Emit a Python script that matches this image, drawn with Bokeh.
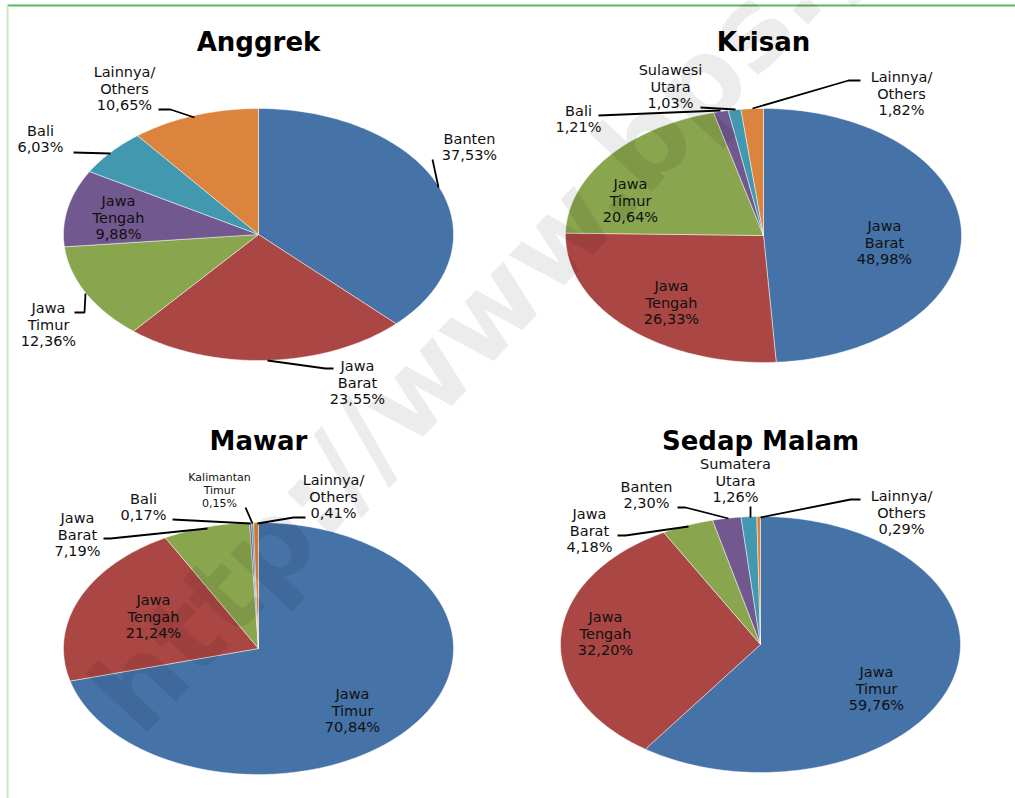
import math
from bokeh.plotting import figure
from bokeh.models import Range1d, ColumnDataSource
from bokeh.embed import file_html
from bokeh.resources import INLINE
from bokeh.core.properties import value

# ---------------- data ----------------
titles = ["Anggrek", "Krisan", "Mawar", "Sedap Malam"]

anggrek_names = ["Banten", "Jawa Barat", "Jawa Timur", "Jawa Tengah", "Bali", "Lainnya/ Others"]
anggrek_values = [37.53, 23.55, 12.36, 9.88, 6.03, 10.65]

krisan_names = ["Jawa Barat", "Jawa Tengah", "Jawa Timur", "Bali", "Sulawesi Utara", "Lainnya/ Others"]
krisan_values = [48.98, 26.33, 20.64, 1.21, 1.03, 1.82]

mawar_names = ["Jawa Timur", "Jawa Tengah", "Jawa Barat", "Bali", "Kalimantan Timur", "Lainnya/ Others"]
mawar_values = [70.84, 21.24, 7.19, 0.17, 0.15, 0.41]

sedap_names = ["Jawa Timur", "Jawa Tengah", "Jawa Barat", "Banten", "Sumatera Utara", "Lainnya/ Others"]
sedap_values = [59.76, 32.20, 4.18, 2.30, 1.26, 0.29]

watermark = "http://www.bps.go.id"

# ---------------- styles / layout ----------------
COLORS = ["#4572A7", "#AA4643", "#89A54E", "#71588F", "#4198AF", "#DB843D"]
FONT = "DejaVu Sans"
W, H = 1015, 798

pies = [
    dict(names=anggrek_names, values=anggrek_values, cx=258, cy=234, rx=195, ry=126,
         title_xy=(258, 41),
         label_xy=[(469, 146.5), (357, 382), (48, 324), (118, 217), (40, 138.5), (124, 88)],
         small=[False] * 6,
         leaders=[[(432, 159), (438, 187)],
                  [(267, 360), (325, 368), (333, 368)],
                  [(85, 293), (84, 312), (74, 312)],
                  None,
                  [(73, 152), (110, 153)],
                  [(158, 109), (170, 109), (194, 117)]]),
    dict(names=krisan_names, values=krisan_values, cx=763, cy=235, rx=198, ry=127,
         title_xy=(763, 41),
         label_xy=[(884, 242), (671, 302), (630, 200), (578, 118.5), (670, 86), (901, 93)],
         small=[False] * 6,
         leaders=[None, None, None,
                  [(598, 115), (720, 110)],
                  [(700, 107), (735, 109)],
                  [(752, 108), (848, 80), (860, 80)]]),
    dict(names=mawar_names, values=mawar_values, cx=258, cy=648, rx=195, ry=126,
         title_xy=(258, 440),
         label_xy=[(352, 710), (153, 616), (77, 534), (143, 506.5), (219, 490), (333, 496)],
         small=[False, False, False, False, True, False],
         leaders=[None, None,
                  [(103, 538), (110, 538), (207, 528)],
                  [(172, 519), (250, 523)],
                  [(245, 507), (252, 523)],
                  [(257, 523), (293, 517), (305, 517)]]),
    dict(names=sedap_names, values=sedap_values, cx=760, cy=644, rx=200, ry=128,
         title_xy=(760, 440),
         label_xy=[(876, 688), (605, 633), (589, 530), (646, 494.5), (735, 480), (901, 512)],
         small=[False] * 6,
         leaders=[None, None,
                  [(617, 535), (625, 535), (688, 526)],
                  [(677, 507), (685, 507), (728, 518)],
                  [(750, 506), (750, 517)],
                  [(760, 517), (850, 499), (860, 499)]]),
]

p = figure(width=W, height=H, output_backend="svg", toolbar_location=None,
           x_range=Range1d(0, W), y_range=Range1d(H, 0), min_border=0)
p.axis.visible = False
p.grid.visible = False
p.outline_line_color = None
p.background_fill_color = "white"
p.border_fill_color = "white"

# frame lines
p.line(x=[7, W], y=[5, 5], line_color="#5cb85c", line_width=2)
p.line(x=[7, 7], y=[5, H], line_color="#cde8c6", line_width=2)

# slices
xs, ys, cols = [], [], []
lab_x, lab_y, lab_t, lab_s = [], [], [], []
lx, ly = [], []
tt_x, tt_y = [], []
for k, pie in enumerate(pies):
    vals = pie["values"]
    total = sum(vals)
    a0 = 0.0
    for i, v in enumerate(vals):
        a1 = a0 + v / total * 2 * math.pi
        n = max(2, int((a1 - a0) / (2 * math.pi) * 360) + 2)
        px = [pie["cx"]]
        py = [pie["cy"]]
        for j in range(n + 1):
            t = a0 + (a1 - a0) * j / n
            px.append(pie["cx"] + pie["rx"] * math.sin(t))
            py.append(pie["cy"] - pie["ry"] * math.cos(t))
        xs.append(px)
        ys.append(py)
        cols.append(COLORS[i % len(COLORS)])
        a0 = a1

        # label
        lines = pie["names"][i].split() + [f"{v:.2f}".replace(".", ",") + "%"]
        small = pie["small"][i]
        step = 13.0 if small else 16.7
        cxl, cyl = pie["label_xy"][i]
        top = cyl - step * (len(lines) - 1) / 2
        for m, s in enumerate(lines):
            lab_x.append(cxl)
            lab_y.append(top + m * step)
            lab_t.append(s)
            lab_s.append("11px" if small else "14.5px")
        ld = pie["leaders"][i]
        if ld:
            lx.append([q[0] for q in ld])
            ly.append([q[1] for q in ld])
    tt_x.append(pie["title_xy"][0])
    tt_y.append(pie["title_xy"][1])

p.patches(xs="xs", ys="ys", fill_color="c", line_color="white", line_width=0.6, line_alpha=0.8,
          source=ColumnDataSource(dict(xs=xs, ys=ys, c=cols)))

p.multi_line(xs=lx, ys=ly, line_color="black", line_width=1.8)

p.text(x="x", y="y", text="t", text_font_size="s", source=ColumnDataSource(
    dict(x=lab_x, y=lab_y, t=lab_t, s=lab_s)),
    text_font=value(FONT), text_align="center", text_baseline="middle", text_color="#111111")

p.text(x=tt_x, y=tt_y, text=titles, text_font=value(FONT), text_font_size="26px",
       text_font_style="bold", text_align="center", text_baseline="middle", text_color="black")

# watermark
p.text(x=[112], y=[712], text=[watermark], angle=[0.82],
       text_font=value(FONT), text_font_size="112px", text_font_style="bold",
       text_color="black", text_alpha=0.075, text_align="left", text_baseline="alphabetic")

open("out.html", "w").write(file_html(p, INLINE))
